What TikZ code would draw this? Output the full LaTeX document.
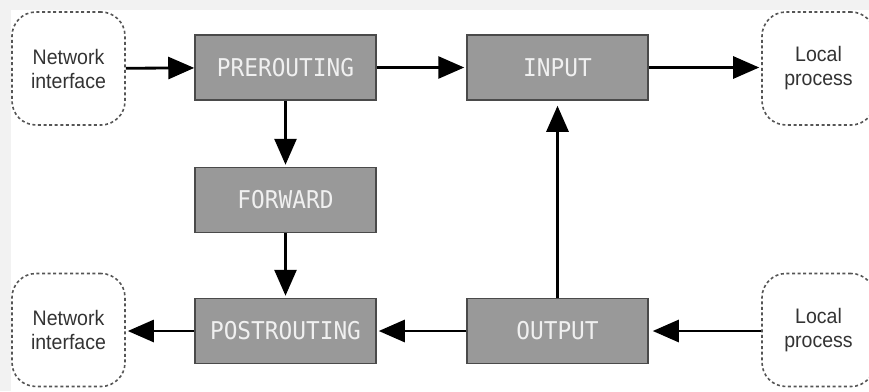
\documentclass[tikz,border=0pt]{standalone}
\usepackage{fontspec}
\setmainfont{Liberation Sans}[FakeStretch=0.93]
\setmonofont{DejaVu Sans Mono}[FakeStretch=0.93]
\usetikzlibrary{arrows.meta}

\definecolor{chainfill}{HTML}{999999}
\definecolor{chainedge}{HTML}{4A4A4A}
\definecolor{hostedge}{HTML}{555555}
\definecolor{hosttext}{HTML}{333333}
\definecolor{pagegray}{HTML}{F2F2F2}

\tikzset{
  chain/.style={draw=chainedge,line width=1.5pt,fill=chainfill,
    minimum width=181pt,minimum height=65pt,inner sep=0pt,
    text=white!94!black,font=\ttfamily\fontsize{24.5}{28}\selectfont},
  host/.style={draw=hostedge,line width=1.6pt,dash pattern=on 3pt off 2.6pt,
    rounded corners=24pt,minimum width=113pt,minimum height=113pt,
    inner sep=0pt,align=center,text=hosttext,
    font=\fontsize{21}{24}\selectfont},
  flow/.style={line width=2.8pt,-{Triangle[length=26pt,width=22pt]},
    shorten >=2pt}
}

\begin{document}
\begin{tikzpicture}[x=1pt,y=-1pt]
		\useasboundingbox (0,0) rectangle (869,391);
		\fill[pagegray] (0,0) rectangle (869,391);
		\fill[white] (11,10) rectangle (869,391);

		% hosts on both ends
		\node[host] (netin)   at (68.5,68.5)  {Network\\interface};
		\node[host] (netout)  at (68.5,330)   {Network\\interface};
		\node[host] (procin)  at (818.5,68.5) {Local\\process};
		\node[host] (procout) at (818.5,330)  {Local\\process};

		% netfilter chains
		\node[chain] (pre)     at (285.5,67.5)  {PREROUTING};
		\node[chain] (fwd)     at (285.5,200)   {FORWARD};
		\node[chain] (post)    at (285.5,331)   {POSTROUTING};
		\node[chain] (input)   at (557.5,67.5)  {INPUT};
		\node[chain] (output)  at (557.5,331)   {OUTPUT};

		\draw[flow,shorten >=0pt] (netin) -- (pre);
		\draw[flow] (pre) -- (input);
		\draw[flow] (input) -- (procin.west |- input);
		\draw[flow] (pre) -- (fwd);
		\draw[flow] (fwd) -- (post);
		\draw[flow] (post) -- (netout.east |- post);
		\draw[flow,shorten >=4pt] (procout.west |- output) -- (output);
		\draw[flow] (output) -- (post);
		\draw[flow,shorten >=5pt] (output) -- (input);
	\end{tikzpicture}
\end{document}
